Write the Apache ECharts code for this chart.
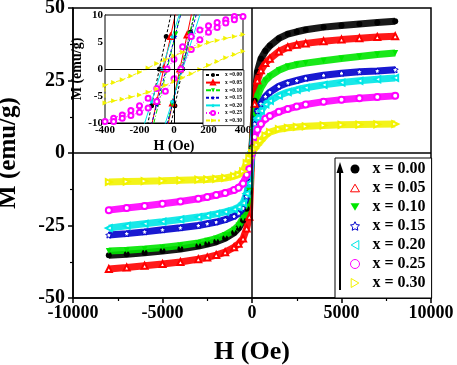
<!DOCTYPE html>
<html>
<head>
<meta charset="utf-8">
<script src="https://cdn.jsdelivr.net/npm/echarts@6/dist/echarts.min.js"></script>
<style>html,body{margin:0;padding:0;background:#fff}#chart{width:457px;height:365px}</style>
</head>
<body>
<div id="chart"></div>
<script>
const FONT = '"Liberation Serif", "Times New Roman", serif'

// main panel: field (Oe) and magnetisation (emu/g), one branch per sample
const fieldMain = [-8000, -7000, -6000, -5000, -4000, -3000, -2500, -2000, -1500, -1000, -750, -500, -300, -150, 0,
  150, 300, 500, 750, 1000, 1500, 2000, 2500, 3000, 4000, 5000, 6000, 7000, 8000]
const m000 = [-35.3, -34.9, -34.4, -33.8, -33.1, -32.1, -31.4, -30.6, -29.4, -27.5, -25.9, -23.3, -19.2, -13.5, 2,
  18, 28, 32.5, 35.2, 37, 39.5, 41, 41.8, 42.5, 43.4, 44, 44.5, 45, 45.4]
const m005 = [-40, -39.5, -38.9, -38.3, -37.6, -36.6, -36, -35.2, -34.2, -32.5, -31.3, -29.5, -26, -22, 1,
  17, 25, 28.5, 31, 32.5, 35, 36.5, 37.3, 37.8, 38.5, 39.1, 39.6, 40, 40.3]
const m010 = [-33.8, -33.5, -33.1, -32.6, -31.9, -31, -30.3, -29.5, -28.3, -26.5, -25, -22.5, -18.5, -13, 1,
  13, 19.5, 22.5, 25, 26.5, 28.5, 29.8, 30.5, 31, 31.8, 32.6, 33.3, 34, 34.5]
const m015 = [-28.3, -27.8, -27.2, -26.5, -25.8, -25, -24.4, -23.8, -23, -21.8, -20.8, -19, -15, -10, 0.5,
  10, 14.5, 17, 19.5, 21, 23, 24.2, 25, 25.8, 26.8, 27.5, 28, 28.3, 28.7]
const m020 = [-25.9, -25.1, -24.4, -23.7, -22.9, -22.1, -21.6, -21, -20.3, -19.4, -18.7, -17.3, -14, -10.5, 0.5,
  8.5, 12, 14.5, 16.8, 18, 19.8, 21, 21.8, 22.5, 23.5, 24.3, 24.9, 25.4, 25.9]
const m025 = [-19.7, -19, -18.3, -17.5, -16.7, -15.8, -15.2, -14.5, -13.8, -12.8, -12, -10.5, -7.5, -5.5, 0,
  5.5, 8, 10, 11.8, 12.8, 14.2, 15.2, 16, 16.7, 17.7, 18.4, 18.9, 19.3, 19.7]
const m030 = [-10, -9.85, -9.7, -9.6, -9.4, -9.2, -9.1, -8.9, -8.6, -8, -7.5, -6.3, -3.5, -1.8, 0,
  1.5, 2.8, 4.2, 6, 7.2, 8.2, 8.7, 9, 9.2, 9.5, 9.7, 9.8, 9.9, 10]

// inset: low-field loops (descending branch, then ascending branch)
const hIn000 = [0, -45, -85, -130, -170, -35, 5, 50, 95, 135]
const mIn000 = [12.8, 6, 0, -6.8, -12.8, -12.8, -6.8, 0, 6.8, 12.8]
const hIn005 = [25, -20, -60, -100, -145, -51, -8, 34, 76, 119]
const mIn005 = [12.8, 6, 0, -6, -12.8, -12.8, -6.3, 0, 6.3, 12.8]
const hIn010 = [55, 10, -40, -90, -135, -55, -10, 40, 90, 135]
const mIn010 = [12.4, 6.5, 0, -6.5, -12.4, -12.4, -6.5, 0, 6.5, 12.4]
const hIn015 = [60, 5, -45, -100, -150, -60, -5, 45, 100, 150]
const mIn015 = [12.6, 6, 0, -6.6, -12.6, -12.6, -6, 0, 6.6, 12.6]
const hIn020 = [50, -10, -70, -130, -190, -70, -10, 50, 110, 170]
const mIn020 = [12, 6, 0, -6, -12, -12, -6, 0, 6, 12]
const hIn025 = [400, 350, 300, 250, 200, 150, 100, 50, 0, -40, -100, -150, -200, -250, -300, -350, -400,
  -400, -350, -300, -250, -200, -150, -100, -50, 0, 40, 100, 150, 200, 250, 300, 350, 400]
const mIn025 = [10.2, 9.7, 9.1, 8.6, 8.0, 7.2, 6.0, 4.1, 1.8, 0, -3.6, -5.4, -6.8, -7.7, -8.5, -9.1, -9.7,
  -10.2, -9.7, -9.1, -8.6, -8.0, -7.2, -6.0, -4.1, -1.8, 0, 3.6, 5.4, 6.8, 7.7, 8.5, 9.1, 9.7]
const hIn030 = [400, 350, 300, 250, 200, 150, 100, 50, 0, -50, -100, -150, -200, -250, -300, -350, -400,
  -400, -350, -300, -250, -200, -150, -100, -50, 0, 50, 100, 150, 200, 250, 300, 350, 400]
const mIn030 = [6.4, 6.0, 5.7, 5.3, 4.9, 4.3, 3.7, 3.1, 2.4, 1.7, 1.0, 0.2, -0.6, -1.3, -2.0, -2.5, -3.0,
  -6.3, -5.9, -5.6, -5.2, -4.8, -4.3, -3.7, -3.0, -2.3, -1.6, -0.9, -0.1, 0.7, 1.4, 2.1, 2.7, 3.3]

const samples = ['0.00', '0.05', '0.10', '0.15', '0.20', '0.25', '0.30']
const xTicks = [-10000, -5000, 0, 5000, 10000]
const yTicks = [-50, -25, 0, 25, 50]

const colors = ['#000000', '#ff0000', '#00e600', '#0000cc', '#00e6e6', '#ff00ff', '#f2f200']
const STAR = 'path://M0,-10L2.9,-4L9.5,-3.1L4.7,1.5L5.9,8.1L0,5L-5.9,8.1L-4.7,1.5L-9.5,-3.1L-2.9,-4Z'
const TRI_UP = 'path://M0,0L10,17L-10,17Z'
const TRI_DOWN = 'path://M-10,0L10,0L0,17Z'
const TRI_LEFT = 'path://M0,0L17,-10L17,10Z'
const TRI_RIGHT = 'path://M0,-10L17,0L0,10Z'
const RING = 'path://M10,0A10,10,0,1,1,-10,0A10,10,0,1,1,10,0Z'
const mainSymbols = ['circle', 'emptyTriangle', 'triangle', STAR, 'emptyTriangle', 'emptyCircle', 'emptyTriangle']
const mainRotate = [0, 0, 180, 0, 90, 0, -90]
const legendIcons = ['circle', TRI_UP, TRI_DOWN, STAR, TRI_LEFT, RING, TRI_RIGHT]
const legendHollow = [false, true, false, true, true, true, true]
const insetSymbols = ['circle', 'emptyTriangle', 'triangle', STAR, STAR, 'emptyCircle', 'triangle']
const insetRotate = [0, 0, 180, 0, 0, 0, -90]
const insetDash = [[3, 2], 'solid', [5, 2, 1, 2], [3, 2], 'solid', [1, 2], [4, 2]]

const mainM = [m000, m005, m010, m015, m020, m025, m030]
const insetH = [hIn000, hIn005, hIn010, hIn015, hIn020, hIn025, hIn030]
const insetM = [mIn000, mIn005, mIn010, mIn015, mIn020, mIn025, mIn030]

const zip = (a, b) => a.map((v, i) => [v, b[i]])

const chart = echarts.init(document.getElementById('chart'))

const mainSeries = samples.map((s, i) => ({
  name: 'x = ' + s,
  type: 'line',
  xAxisIndex: 0,
  yAxisIndex: 0,
  data: zip(fieldMain, mainM[i]),
  symbol: mainSymbols[i],
  symbolRotate: mainRotate[i],
  symbolSize: 6,
  showAllSymbol: true,
  lineStyle: { color: colors[i], width: 7, opacity: 0.9 },
  itemStyle: i === 3 ? { color: '#fff', borderColor: colors[i], borderWidth: 1 } : { color: colors[i] },
  silent: true,
  animation: false
}))

const insetSeries = samples.map((s, i) => ({
  name: 'x =' + s,
  type: 'line',
  xAxisIndex: 1,
  yAxisIndex: 1,
  data: zip(insetH[i], insetM[i]),
  symbol: insetSymbols[i],
  symbolRotate: insetRotate[i],
  symbolSize: 5,
  showAllSymbol: true,
  clip: true,
  lineStyle: { color: colors[i], width: 1, type: insetDash[i] },
  itemStyle: { color: colors[i] },
  z: 3,
  silent: true,
  animation: false
}))

const zeroLines = (xi, w) => ({
  type: 'line',
  xAxisIndex: xi,
  yAxisIndex: xi,
  data: [],
  z: 6,
  silent: true,
  animation: false,
  markLine: {
    silent: true,
    animation: false,
    symbol: ['none', 'none'],
    label: { show: false },
    lineStyle: { color: '#000', type: 'solid', width: w },
    data: [{ xAxis: 0 }, { yAxis: 0 }]
  }
})

const labelBold = (size) => ({ color: '#000', fontFamily: FONT, fontWeight: 'bold', fontSize: size })

chart.setOption({
  backgroundColor: '#fff',
  animation: false,
  grid: [
    { left: 73, right: 26, top: 8, bottom: 67, outerBoundsMode: 'none', show: true, borderColor: '#000', borderWidth: 1.5 },
    { left: 105, right: 214, top: 15, bottom: 242, outerBoundsMode: 'none', show: true, backgroundColor: '#fff', borderColor: '#000', borderWidth: 1, z: 1 }
  ],
  xAxis: [
    {
      gridIndex: 0, type: 'value', min: xTicks[0], max: xTicks[xTicks.length - 1], interval: 5000,
      name: 'H (Oe)', nameLocation: 'middle', nameGap: 41,
      nameTextStyle: labelBold(26),
      axisLine: { onZero: false, lineStyle: { color: '#000', width: 1.5 } },
      axisTick: { length: 5, lineStyle: { color: '#000', width: 1.5 } },
      minorTick: { show: true, splitNumber: 2, length: 3, lineStyle: { color: '#000', width: 1.2 } },
      axisLabel: { ...labelBold(18), margin: 6, formatter: v => String(v) },
      splitLine: { show: false }
    },
    {
      gridIndex: 1, type: 'value', min: -400, max: 400, interval: 200,
      name: 'H (Oe)', nameLocation: 'middle', nameGap: 16,
      nameTextStyle: labelBold(14),
      axisLine: { onZero: false, lineStyle: { color: '#000', width: 1 } },
      axisTick: { inside: true, length: 3, lineStyle: { color: '#000' } },
      axisLabel: { ...labelBold(11), margin: 2, formatter: v => String(v) },
      splitLine: { show: false }
    }
  ],
  yAxis: [
    {
      gridIndex: 0, type: 'value', min: yTicks[0], max: yTicks[yTicks.length - 1], interval: 25,
      name: 'M (emu/g)', nameLocation: 'middle', nameGap: 52,
      nameTextStyle: labelBold(25),
      axisLine: { onZero: false, lineStyle: { color: '#000', width: 1.5 } },
      axisTick: { length: 5, lineStyle: { color: '#000', width: 1.5 } },
      minorTick: { show: true, splitNumber: 2, length: 3, lineStyle: { color: '#000', width: 1.2 } },
      axisLabel: { ...labelBold(20), margin: 8 },
      splitLine: { show: false }
    },
    {
      gridIndex: 1, type: 'value', min: -10, max: 10, interval: 5,
      name: 'M (emu/g)', nameLocation: 'middle', nameGap: 20,
      nameTextStyle: labelBold(14),
      axisLine: { onZero: false, lineStyle: { color: '#000', width: 1 } },
      axisTick: { inside: true, length: 3, lineStyle: { color: '#000' } },
      axisLabel: { ...labelBold(11), margin: 2 },
      splitLine: { show: false }
    }
  ],
  legend: [
    {
      data: samples.map((s, i) => ({
        name: 'x = ' + s,
        icon: legendIcons[i],
        itemStyle: legendHollow[i] ? { color: '#fff', borderColor: colors[i], borderWidth: 1 } : undefined
      })),
      orient: 'vertical', left: 335, top: 158,
      padding: [3, 6, 7, 15],
      itemWidth: 9, itemHeight: 9, itemGap: 3,
      borderColor: '#000', borderWidth: 1, backgroundColor: '#fff',
      textStyle: { ...labelBold(16), lineHeight: 16, padding: [0, 0, 0, 8] },
      selectedMode: false
    },
    {
      data: samples.map(s => 'x =' + s),
      orient: 'vertical', left: 203, top: 70,
      padding: [2, 2, 2, 2],
      itemWidth: 14, itemHeight: 5, itemGap: 1.6,
      borderColor: '#000', borderWidth: 0.8, backgroundColor: '#fff',
      textStyle: { ...labelBold(5.5), lineHeight: 6 },
      selectedMode: false
    }
  ],
  graphic: [
    { type: 'line', z: 100, shape: { x1: 340, y1: 290, x2: 340, y2: 170 }, style: { stroke: '#000', lineWidth: 2 } },
    { type: 'polygon', z: 100, shape: { points: [[340, 162], [336.5, 173], [343.5, 173]] }, style: { fill: '#000' } }
  ],
  series: [...mainSeries, zeroLines(0, 1.5), ...insetSeries, zeroLines(1, 1)]
})
</script>
</body>
</html>
